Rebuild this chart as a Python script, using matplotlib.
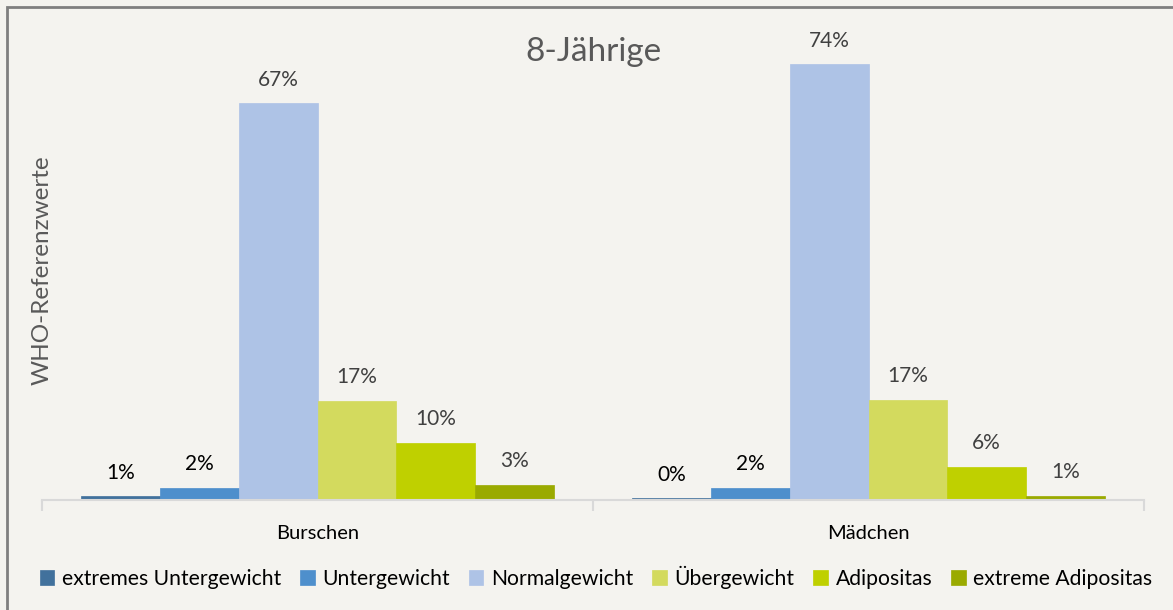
import numpy as np
import matplotlib.pyplot as plt
from matplotlib.patches import Rectangle

# Daten (Anteile in %)
groups = ['Burschen', 'Mädchen']
series = ['extremes Untergewicht', 'Untergewicht', 'Normalgewicht',
          'Übergewicht', 'Adipositas', 'extreme Adipositas']
burschen = [0.6, 2.1, 67.0, 16.7, 9.6, 2.6]
maedchen = [0.3, 2.0, 73.6, 16.9, 5.6, 0.7]
colors = ['#41719C', '#4E8FCC', '#AEC3E6', '#D3DA5E', '#BFD000', '#9AAA00']
label_colors = ['#000000', '#000000', '#404040', '#404040', '#404040', '#404040']

plt.rcParams['font.family'] = ['Lato', 'DejaVu Sans']

W, H = 1173, 610
fig = plt.figure(figsize=(W / 100, H / 100), dpi=100)
fig.patch.set_facecolor('#F4F3EF')

# Rahmen (nur oben/links sichtbar)
fig.patches.append(Rectangle((7 / W, -0.1), 1.2, 1.1 - 7 / H, transform=fig.transFigure,
                             fill=False, edgecolor='#7F7F7F', linewidth=2))

ax = fig.add_axes([42 / W, 1 - 500 / H, (1144 - 42) / W, (500 - 26.4) / H])
ax.set_facecolor('none')
ax.set_xlim(0, 2)
ax.set_ylim(0, 80)

data = np.array([burschen, maedchen])
bw = 1 / 7
for i, name in enumerate(series):
    xs = np.arange(2) + 0.5 + (i - 2.5) * bw
    ax.bar(xs, data[:, i], width=bw, color=colors[i], label=name,
           edgecolor=colors[i], linewidth=0.5)
    for x, v in zip(xs, data[:, i]):
        ax.text(x, v + 4.0, f'{round(v):.0f}%', ha='center', va='center',
                fontsize=15, color=label_colors[i])

for s in ['top', 'right', 'left']:
    ax.spines[s].set_visible(False)
ax.spines['bottom'].set_color('#D9D9D9')
ax.spines['bottom'].set_linewidth(1.5)
ax.set_yticks([])
ax.set_xticks([0, 1, 2])
ax.set_xticklabels([])
ax.tick_params(axis='x', length=8, color='#D9D9D9', width=1.5)
for x, g in zip([0.5, 1.5], groups):
    ax.text(x, -5.7, g, ha='center', va='center', fontsize=14.5, color='#000000')

fig.text(42 / W, 1 - 270 / H, 'WHO-Referenzwerte', rotation=90, ha='center', va='center',
         fontsize=17.5, color='#595959')

fig.text(593 / W, 1 - 52 / H, '8-Jährige', ha='center', va='center',
         fontsize=24, color='#595959')

leg = fig.legend(loc='center', bbox_to_anchor=(596 / W, 1 - 577 / H), ncol=6,
                 frameon=False, fontsize=15.2, handlelength=0.7, handleheight=0.7,
                 handletextpad=0.35, columnspacing=0.9)

fig.savefig('out.png', dpi=100, facecolor=fig.get_facecolor())
